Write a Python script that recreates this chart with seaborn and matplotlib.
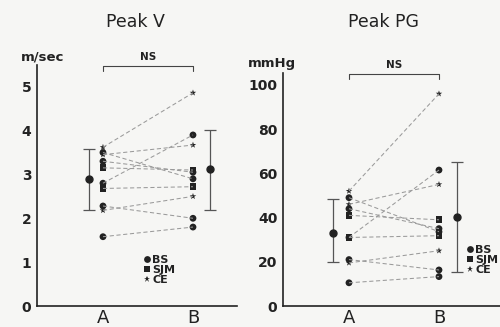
import numpy as np
import pandas as pd
import matplotlib
matplotlib.use("Agg")
import matplotlib.pyplot as plt
import seaborn as sns

sns.set_theme(style="white")
plt.rcParams["font.family"] = ["DejaVu Sans"]

# Paired measurements before (A) and after (B), one entry per patient
valve = ["CE", "CE", "BS", "BS", "SJM", "BS", "SJM", "BS", "CE", "BS"]
v_a = [3.62, 3.45, 3.50, 3.30, 3.15, 2.80, 2.68, 2.28, 2.18, 1.58]
v_b = [4.86, 3.67, 2.90, 3.05, 3.10, 3.90, 2.72, 2.00, 2.50, 1.80]
pg_a = [52.0, 46.0, 49.0, 44.0, 41.0, 31.0, 31.0, 21.0, 19.5, 10.5]
pg_b = [96.0, 55.0, 33.6, 35.0, 39.0, 61.5, 31.8, 16.3, 25.0, 13.3]

# Group mean and +/- SD limits
v_mean = [2.90, 3.12]
v_lo = [2.20, 2.20]
v_hi = [3.58, 4.01]
pg_mean = [33.2, 40.1]
pg_lo = [19.8, 15.5]
pg_hi = [48.3, 65.3]

groups = ["A", "B"]
valve_order = ["BS", "SJM", "CE"]
markers = {"BS": "o", "SJM": "s", "CE": "*"}

ink = "#222222"
bg = "#f6f6f4"


def long_table(a, b):
    n = len(a)
    return pd.DataFrame({
        "patient": list(range(n)) * 2,
        "x": [0] * n + [1] * n,
        "value": list(a) + list(b),
        "valve": list(valve) * 2,
    })


W, H = 500, 327
fig = plt.figure(figsize=(W / 100, H / 100), dpi=100, facecolor=bg)


def px_axes(x0, x1, ytop, ybot):
    return fig.add_axes([x0 / W, (H - ybot) / H, (x1 - x0) / W, (ybot - ytop) / H])


def panel(ax, df, mean, lo, hi, ylim, xlim, yticks, mean_x, bracket_y, bracket_tick,
          ns_y, unit, unit_xy, title, title_xy, leg_anchor):
    ax.set_facecolor(bg)
    sns.lineplot(data=df, x="x", y="value", units="patient", estimator=None,
                 color="#9a9a9a", linewidth=0.75, linestyle=(0, (4, 2.5)),
                 ax=ax, legend=False)
    sns.scatterplot(data=df, x="x", y="value", style="valve", style_order=valve_order,
                    markers=markers, color=ink, s=24, linewidth=0, ax=ax)
    ax.errorbar(mean_x, mean,
                yerr=[np.array(mean) - np.array(lo), np.array(hi) - np.array(mean)],
                fmt="o", color=ink, ecolor="#555555", elinewidth=0.9, capsize=4,
                capthick=0.9, markersize=5)
    ax.set_xlim(*xlim)
    ax.set_ylim(*ylim)
    ax.set_xticks([0, 1])
    ax.set_xticklabels(groups, fontsize=13, color=ink)
    ax.set_yticks(yticks)
    ax.set_yticklabels([str(t) for t in yticks], fontsize=10, fontweight="bold", color=ink)
    ax.tick_params(axis="y", direction="out", length=3, width=0.9, color=ink, pad=1)
    ax.tick_params(axis="x", direction="in", length=3, width=0.9, color=ink, pad=2)
    ax.set_xlabel("")
    ax.set_ylabel("")
    for side in ["top", "right"]:
        ax.spines[side].set_visible(False)
    for side in ["left", "bottom"]:
        ax.spines[side].set_color(ink)
        ax.spines[side].set_linewidth(1.2)
    # significance bracket
    ax.plot([0, 0, 1, 1], [bracket_tick, bracket_y, bracket_y, bracket_tick],
            color="#444444", lw=0.8, clip_on=False)
    ax.text(0.5, ns_y, "NS", ha="center", va="center", fontsize=7.5,
            fontweight="bold", color=ink)
    fig.text(unit_xy[0] / W, 1 - unit_xy[1] / H, unit, ha="left", va="center",
             fontsize=9.5, fontweight="bold", color=ink)
    fig.text(title_xy[0] / W, 1 - title_xy[1] / H, title, ha="center", va="center",
             fontsize=12.5, color=ink)
    leg = ax.legend(loc="upper left", bbox_to_anchor=leg_anchor, frameon=False,
                    fontsize=8, handletextpad=0.05, handlelength=0.8,
                    labelspacing=0.0, borderpad=0, borderaxespad=0)
    for t in leg.get_texts():
        t.set_fontweight("bold")
        t.set_color(ink)


# Peak velocity panel
ax1 = px_axes(37, 237, 65, 306)
panel(ax1, long_table(v_a, v_b), v_mean, v_lo, v_hi,
      ylim=(0, 5.495), xlim=(-0.733, 1.489), yticks=[0, 1, 2, 3, 4, 5],
      mean_x=[-0.156, 1.189], bracket_y=5.48, bracket_tick=5.36, ns_y=5.68,
      unit="m/sec", unit_xy=(21, 57), title="Peak V", title_xy=(135, 22),
      leg_anchor=((143 - 37) / 200, (306 - 255) / 241))

# Peak pressure gradient panel
ax2 = px_axes(283, 500, 73, 306)
panel(ax2, long_table(pg_a, pg_b), pg_mean, pg_lo, pg_hi,
      ylim=(0, 105.4), xlim=(-0.733, 1.678), yticks=[0, 20, 40, 60, 80, 100],
      mean_x=[-0.178, 1.2], bracket_y=105.0, bracket_tick=102.7, ns_y=109.0,
      unit="mmHg", unit_xy=(248, 64), title="Peak PG", title_xy=(383, 22),
      leg_anchor=((466 - 283) / 217, (306 - 245) / 233))

fig.savefig("out.png", dpi=100, facecolor=bg)
